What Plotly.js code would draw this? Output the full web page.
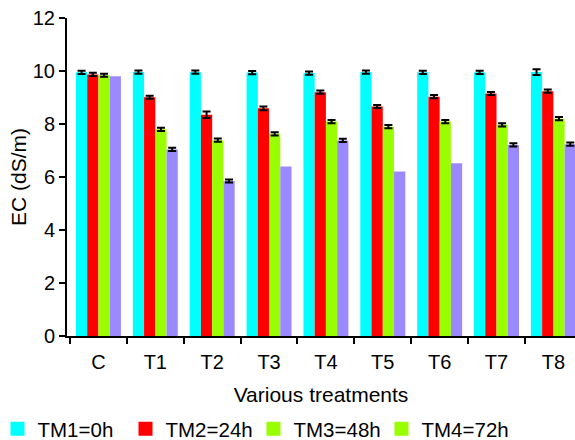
<!DOCTYPE html>
<html>
<head>
<meta charset="utf-8">
<script src="https://cdn.plot.ly/plotly-3.0.1.min.js"></script>
<style>html,body{margin:0;padding:0;background:#fff;}#chart{width:575px;height:440px;}</style>
</head>
<body>
<div id="chart"></div>
<script>
const categories = ["C", "T1", "T2", "T3", "T4", "T5", "T6", "T7", "T8"];
const seriesNames = ["TM1=0h", "TM2=24h", "TM3=48h", "TM4=72h"];
const tm1 = [9.95, 9.96, 9.96, 9.94, 9.92, 9.96, 9.95, 9.95, 9.96];
const tm2 = [9.87, 9.01, 8.35, 8.59, 9.20, 8.66, 9.03, 9.15, 9.24];
const tm3 = [9.84, 7.80, 7.39, 7.63, 8.09, 7.90, 8.09, 7.97, 8.20];
const tm4 = [9.80, 7.04, 5.85, 6.40, 7.38, 6.21, 6.52, 7.21, 7.24];
const err1 = [0.06, 0.06, 0.06, 0.06, 0.06, 0.06, 0.06, 0.06, 0.11];
const err2 = [0.06, 0.06, 0.12, 0.07, 0.06, 0.06, 0.06, 0.06, 0.06];
const err3 = [0.06, 0.06, 0.06, 0.06, 0.06, 0.06, 0.06, 0.06, 0.06];
const err4 = [NaN, 0.06, 0.06, NaN, 0.06, NaN, NaN, 0.06, 0.06];

const barColors = ["#00FFFF", "#FF0000", "#99FF00", "#9B8AFF"];
const legendColors = ["#00FFFF", "#FF0000", "#99FF00", "#99FF00"];

const values = [tm1, tm2, tm3, tm4];
const errors = [err1, err2, err3, err4];

const traces = [];
values.forEach((v, i) => {
  traces.push({
    type: "bar",
    x: categories,
    y: v,
    name: seriesNames[i],
    showlegend: false,
    marker: {color: barColors[i], line: {width: 0}},
    error_y: {type: "data", array: errors[i], visible: true, color: "#000", thickness: 2, width: 4}
  });
});
// legend-only entries (the reference legend shows a green swatch for TM4)
seriesNames.forEach((n, i) => {
  traces.push({
    type: "scatter",
    mode: "markers",
    x: [categories[0]],
    y: [null],
    name: n,
    marker: {symbol: "square", size: 14, color: legendColors[i]},
    hoverinfo: "skip"
  });
});

const fam = "Arial, 'Liberation Sans', sans-serif";
const tickFont = {family: fam, size: 20, color: "#000"};
const titleFont = {family: fam, size: 21, color: "#000"};

const layout = {
  width: 575,
  height: 440,
  paper_bgcolor: "#fff",
  plot_bgcolor: "#fff",
  margin: {l: 67, r: 0, t: 18, b: 104, autoexpand: false},
  font: tickFont,
  barmode: "group",
  bargap: 0.209,
  bargroupgap: 0,
  xaxis: {
    type: "category",
    range: [-0.553, 8.38],
    showline: true,
    linecolor: "#000",
    linewidth: 2,
    ticks: "outside",
    tickson: "boundaries",
    ticklen: 6,
    tickwidth: 2,
    tickcolor: "#000",
    ticklabelstandoff: 7,
    showgrid: false,
    zeroline: false,
    tickfont: tickFont,
    title: {text: "Various treatments", font: titleFont, standoff: 15}
  },
  yaxis: {
    range: [0, 12],
    dtick: 2,
    showline: true,
    linecolor: "#000",
    linewidth: 2,
    ticks: "outside",
    ticklen: 6,
    tickwidth: 2,
    tickcolor: "#000",
    showgrid: false,
    zeroline: false,
    tickfont: tickFont,
    title: {text: "EC (dS/m)", font: titleFont, standoff: 0}
  },
  legend: {
    orientation: "h",
    x: -0.1368,
    xanchor: "left",
    y: -0.2925,
    yanchor: "middle",
    font: {family: fam, size: 20.5, color: "#000"},
    entrywidth: 83,
    entrywidthmode: "pixels",
    itemwidth: 30,
    bgcolor: "rgba(0,0,0,0)"
  },
  showlegend: true
};

Plotly.newPlot("chart", traces, layout, {displayModeBar: false, staticPlot: true});
</script>
</body>
</html>
